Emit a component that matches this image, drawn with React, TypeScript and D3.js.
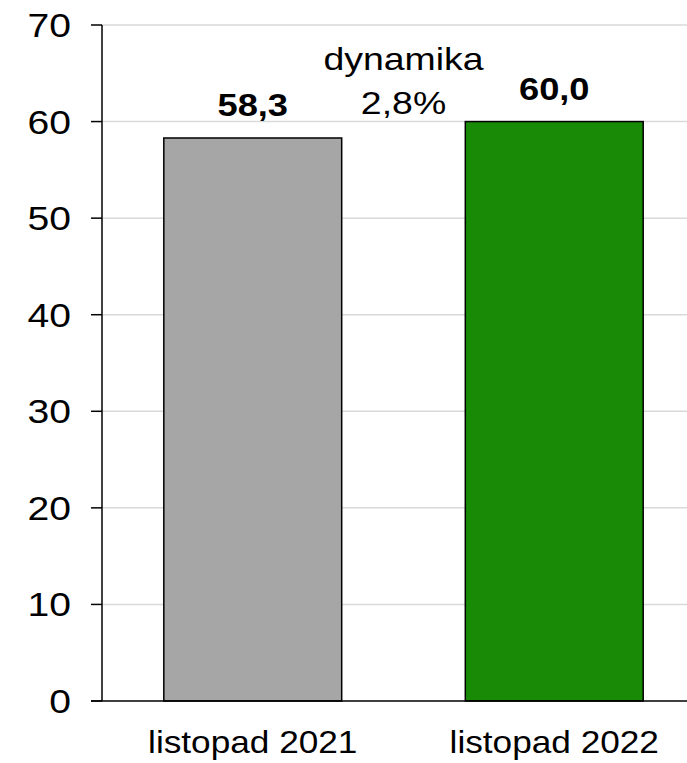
import * as d3 from "d3";

const WIDTH = 687;
const HEIGHT = 763;
const PLOT = { left: 102, right: 705, top: 25, bottom: 701 };

const categories = ["listopad 2021", "listopad 2022"];
const values = [58.3, 60.0];
const barColors = ["#a6a6a6", "#188a06"];
const valueLabels = ["58,3", "60,0"];
const yTicks = [0, 10, 20, 30, 40, 50, 60, 70];
const dynamikaLabel = "dynamika";
const dynamikaValue = "2,8%";

const FONT = "Liberation Sans, Arial, sans-serif";
// the reference text is slightly stretched horizontally
const STRETCH = 1.17;

function SText({ x, y, size, anchor = "middle", bold = false, sx = STRETCH, children }: any) {
  return (
    <text
      transform={`translate(${x} ${y}) scale(${sx} 1)`}
      textAnchor={anchor}
      fontSize={size}
      fontWeight={bold ? "bold" : "normal"}
      fill="#000"
    >
      {children}
    </text>
  );
}

export default function App() {
  const x = d3
    .scaleBand<string>()
    .domain(categories)
    .range([PLOT.left, PLOT.right])
    .paddingInner(0.41)
    .paddingOuter(0.205);

  const y = d3.scaleLinear().domain([0, 70]).range([PLOT.bottom, PLOT.top]);

  const midX = ((x(categories[0]) ?? 0) + x.bandwidth() + (x(categories[1]) ?? 0)) / 2;

  return (
    <svg
      width={WIDTH}
      height={HEIGHT}
      style={{ position: "absolute", left: 0, top: 0, background: "#fff" }}
      fontFamily={FONT}
    >
      {yTicks.map((t) => (
        <g key={t}>
          {t > 0 && (
            <line x1={PLOT.left} x2={WIDTH} y1={y(t)} y2={y(t)} stroke="#d9d9d9" strokeWidth={1.5} />
          )}
          <line x1={PLOT.left - 11} x2={PLOT.left} y1={y(t)} y2={y(t)} stroke="#000" strokeWidth={1.5} />
          <SText x={71} y={y(t) + 12} size={34} anchor="end" sx={1.15}>
            {t}
          </SText>
        </g>
      ))}

      {categories.map((c, i) => (
        <rect
          key={c}
          x={x(c)}
          y={y(values[i])}
          width={x.bandwidth()}
          height={y(0) - y(values[i])}
          fill={barColors[i]}
          stroke="#000"
          strokeWidth={1.5}
        />
      ))}

      <line x1={PLOT.left} x2={PLOT.left} y1={PLOT.top} y2={PLOT.bottom} stroke="#000" strokeWidth={1.5} />
      <line x1={PLOT.left - 11} x2={WIDTH} y1={PLOT.bottom} y2={PLOT.bottom} stroke="#000" strokeWidth={1.5} />

      {categories.map((c, i) => (
        <g key={`lbl-${c}`}>
          <SText x={(x(c) ?? 0) + x.bandwidth() / 2} y={y(values[i]) - 22} size={31} bold>
            {valueLabels[i]}
          </SText>
          <SText x={(x(c) ?? 0) + x.bandwidth() / 2} y={753} size={32} sx={1.1}>
            {c}
          </SText>
        </g>
      ))}

      <SText x={midX} y={70} size={32}>
        {dynamikaLabel}
      </SText>
      <SText x={midX} y={114} size={32}>
        {dynamikaValue}
      </SText>
    </svg>
  );
}
